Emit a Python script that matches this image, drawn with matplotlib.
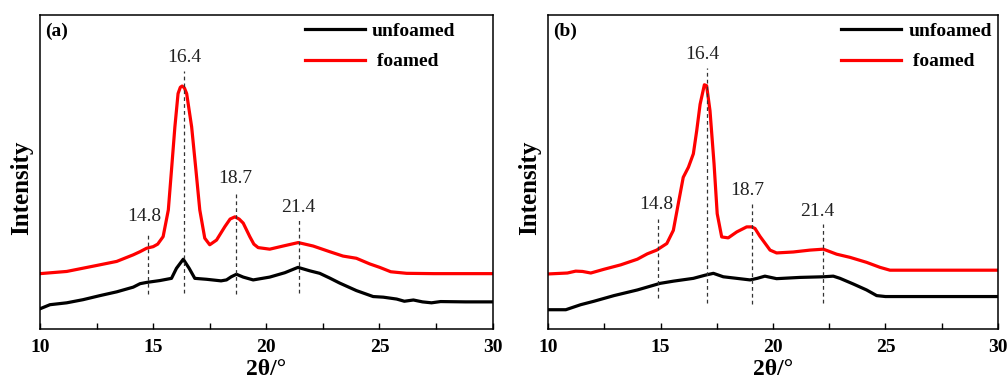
import matplotlib.pyplot as plt
from matplotlib.ticker import MultipleLocator

plt.rcParams['font.family'] = ['Liberation Serif', 'DejaVu Serif']

# --- données (unités arbitraires, 0 = bas du cadre, 100 = haut) ---
# (a)
a_red_x = [10, 11.18, 12.5, 13.39, 14.12, 14.42, 14.71, 15.0, 15.2, 15.44, 15.67, 15.81,
           15.96, 16.1, 16.2, 16.28, 16.38, 16.48, 16.7, 16.89, 17.06, 17.28, 17.5, 17.8,
           18.17, 18.4, 18.61, 18.8, 18.98, 19.27, 19.45, 19.64, 20.15, 20.74, 21.41, 22.07,
           22.8, 23.39, 23.98, 24.57, 25.01, 25.5, 26.2, 27.4, 30]
a_red_y = [17.6, 18.3, 20.2, 21.5, 23.6, 24.6, 25.7, 26.2, 27.0, 29.4, 37.9, 50.6,
           64.4, 75, 77.0, 77.4, 76.8, 75, 64.4, 50.6, 37.9, 28.9, 26.8, 28.3,
           32.6, 35.0, 35.7, 35.0, 33.7, 29.4, 27.0, 25.9, 25.4, 26.4, 27.5, 26.4,
           24.6, 23.2, 22.5, 20.7, 19.6, 18.2, 17.7, 17.6, 17.6]
a_blk_x = [10, 10.44, 11.18, 11.9, 12.65, 13.39, 14.12, 14.42, 14.71, 15.3, 15.81, 16.03,
           16.33, 16.59, 16.84, 17.36, 18.0, 18.24, 18.45, 18.68, 18.98, 19.42, 20.15, 20.82,
           21.4, 21.92, 22.36, 22.8, 23.24, 23.98, 24.72, 25.17, 25.76, 26.1, 26.5, 26.9,
           27.3, 27.7, 28.8, 30]
a_blk_y = [6.4, 7.7, 8.3, 9.3, 10.6, 11.8, 13.3, 14.4, 14.8, 15.4, 16.1, 19.3,
           22.2, 19.3, 16.1, 15.8, 15.3, 15.6, 16.6, 17.4, 16.5, 15.6, 16.5, 17.9,
           19.6, 18.5, 17.7, 16.2, 14.6, 12.2, 10.3, 10.1, 9.5, 8.8, 9.2, 8.6,
           8.3, 8.7, 8.6, 8.6]
a_peak_x = [14.76, 16.35, 18.66, 21.44]
a_peak_top = [30.5, 82.2, 43.4, 34.7]
a_peak_bot = [11.0, 11.4, 11.2, 11.4]
a_lab_x = [14.59, 16.37, 18.65, 21.43]
a_lab_y = [35.8, 86.6, 47.8, 38.8]

# (b)
b_red_x = [10, 10.86, 11.23, 11.53, 11.9, 12.49, 13.23, 13.97, 14.41, 14.83, 15.28, 15.57,
           15.79, 16.01, 16.24, 16.46, 16.61, 16.76, 16.95, 17.05, 17.2, 17.38, 17.52, 17.72,
           18.01, 18.39, 18.83, 19.05, 19.2, 19.42, 19.87, 20.16, 20.9, 21.64, 22.24, 22.83,
           23.42, 24.16, 24.76, 25.2, 30]
b_red_y = [17.5, 17.8, 18.4, 18.3, 17.8, 19.0, 20.4, 22.2, 23.9, 25.1, 27.2, 31.4,
           39.9, 48.3, 51.5, 55.8, 63.2, 71.6, 77.8, 77.5, 69.5, 52.6, 36.7, 29.3,
           29.0, 30.9, 32.5, 32.5, 32.0, 29.5, 25.1, 24.2, 24.5, 25.1, 25.4, 23.8,
           22.8, 21.2, 19.6, 18.7, 18.7]
b_blk_x = [10, 10.79, 11.45, 12.04, 12.93, 13.97, 14.98, 15.57, 16.46, 16.98, 17.35, 17.79,
           18.39, 18.98, 19.3, 19.64, 20.16, 21.2, 22.24, 22.68, 22.98, 23.57, 24.16, 24.61,
           25.0, 30]
b_blk_y = [6.1, 6.1, 7.7, 8.8, 10.6, 12.4, 14.5, 15.2, 16.1, 17.1, 17.7, 16.6,
           16.1, 15.6, 16.1, 16.8, 16.0, 16.4, 16.6, 16.8, 16.1, 14.3, 12.4, 10.6,
           10.3, 10.3]
b_peak_x = [14.89, 17.05, 19.05, 22.24]
b_peak_top = [34.9, 83.3, 40.0, 33.4]
b_peak_bot = [9.8, 8.2, 8.0, 8.2]
b_lab_x = [14.83, 16.86, 18.86, 21.97]
b_lab_y = [39.7, 87.3, 44.0, 37.3]

peak_labels = ['14.8', '16.4', '18.7', '21.4']

fig = plt.figure(figsize=(10.08, 3.78), dpi=100)
ax1 = fig.add_axes([0.0397, 0.130, 0.449, 0.830])
ax2 = fig.add_axes([0.5437, 0.130, 0.4463, 0.830])

panels = [
    (ax1, '(a)', 0.585, a_blk_x, a_blk_y, a_red_x, a_red_y, a_peak_x, a_peak_top, a_peak_bot, a_lab_x, a_lab_y),
    (ax2, '(b)', 0.651, b_blk_x, b_blk_y, b_red_x, b_red_y, b_peak_x, b_peak_top, b_peak_bot, b_lab_x, b_lab_y),
]

for ax, tag, leg_x, bx, by, rx, ry, px, ptop, pbot, lx, ly in panels:
    ax.plot(bx, by, color='black', linewidth=2.3, label='unfoamed')
    ax.plot(rx, ry, color='#ff0000', linewidth=2.3, label=' foamed')
    ax.vlines(px, pbot, ptop, colors='#333333', linestyles=(0, (3, 2.5)), linewidth=0.9)
    for x, y, s in zip(lx, ly, peak_labels):
        ax.text(x, y, s, ha='center', va='center', fontsize=14, color='#222222')
    ax.text(0.012, 0.975, tag, transform=ax.transAxes, ha='left', va='top',
            fontsize=14, fontweight='bold')
    ax.set_xlim(10, 30)
    ax.set_ylim(0, 100)
    ax.xaxis.set_major_locator(MultipleLocator(5))
    ax.xaxis.set_minor_locator(MultipleLocator(2.5))
    ax.tick_params(axis='x', which='both', direction='in', length=4, width=1,
                   labelsize=14, pad=7, top=False)
    ax.set_yticks([])
    for lab in ax.get_xticklabels():
        lab.set_fontweight('bold')
    ax.set_xlabel('2θ/°', fontsize=17, fontweight='bold')
    ax.xaxis.set_label_coords(0.5, -0.095)
    ax.set_ylabel('Intensity', fontsize=18, fontweight='bold')
    ax.yaxis.set_label_coords(-0.015, 0.45)
    for sp in ax.spines.values():
        sp.set_linewidth(1.1)
    ax.legend(loc='upper left', bbox_to_anchor=(leg_x, 0.978), frameon=False,
              prop={'weight': 'bold', 'size': 14}, handlelength=3.1,
              handletextpad=0.36, labelspacing=0.68, borderpad=0, borderaxespad=0)

fig.savefig('out.png', dpi=100)
